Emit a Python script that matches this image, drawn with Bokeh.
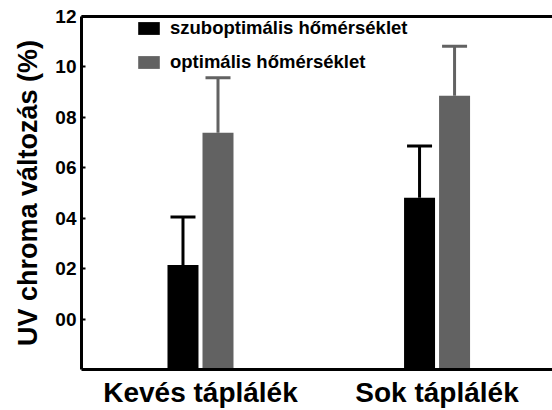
from bokeh.plotting import figure
from bokeh.models import (ColumnDataSource, Whisker, TeeHead, Legend, LegendItem,
                          FixedTicker, LinearAxis, Range1d)
from bokeh.embed import file_html
from bokeh.resources import INLINE

# ---- data ----
groups = ["Kevés táplálék", "Sok táplálék"]
group_x = [1, 2]
series_names = ["szuboptimális hőmérséklet", "optimális hőmérséklet"]
subopt_vals = [2.14, 4.81]
subopt_err = [1.91, 2.05]
opt_vals = [7.39, 8.86]
opt_err = [2.18, 1.96]
y_ticks = [0, 2, 4, 6, 8, 10, 12]
y_tick_labels = ["00", "02", "04", "06", "08", "10", "12"]

FONT = "Liberation Sans"
BLACK = "#000000"
GRAY = "#626262"
OFF = 0.074
BW = 0.131

p = figure(width=552, height=410, output_backend="svg", toolbar_location=None,
           x_range=Range1d(0.497, 2.488), y_range=Range1d(-2, 12),
           min_border_left=81, min_border_right=0, min_border_top=16,
           min_border_bottom=37)
p.outline_line_color = None
p.xgrid.visible = False
p.ygrid.visible = False
p.background_fill_color = "white"
p.border_fill_color = "white"

def make_src(vals, errs, off):
    return ColumnDataSource(dict(
        x=[g + off for g in group_x],
        val=vals,
        top=[v + e for v, e in zip(vals, errs)],
    ))

src_b = make_src(subopt_vals, subopt_err, -OFF)
src_g = make_src(opt_vals, opt_err, OFF)

r_b = p.vbar(x="x", top="val", bottom=-2, width=BW, source=src_b,
             fill_color=BLACK, line_color=None)
r_g = p.vbar(x="x", top="val", bottom=-2, width=BW, source=src_g,
             fill_color=GRAY, line_color=None)

for src, col in [(src_b, BLACK), (src_g, GRAY)]:
    w = Whisker(base="x", lower="val", upper="top", source=src,
                line_color=col, line_width=3,
                upper_head=TeeHead(size=25, line_color=col, line_width=3),
                lower_head=None)
    p.add_layout(w)

# axes
xa = p.xaxis[0]
xa.ticker = FixedTicker(ticks=group_x)
xa.major_label_overrides = {g: lab for g, lab in zip(group_x, groups)}
xa.major_label_text_font = FONT
xa.major_label_text_font_style = "bold"
xa.major_label_text_font_size = "28px"
xa.major_label_text_color = "black"
xa.major_label_standoff = 7
xa.major_tick_in = 0
xa.major_tick_out = 0
xa.minor_tick_line_color = None
xa.axis_line_width = 3
xa.axis_line_color = "black"

ya = p.yaxis[0]
ya.ticker = FixedTicker(ticks=y_ticks)
ya.major_label_overrides = {t: lab for t, lab in zip(y_ticks, y_tick_labels)}
ya.major_label_text_font = FONT
ya.major_label_text_font_style = "bold"
ya.major_label_text_font_size = "19px"
ya.major_label_text_color = "black"
ya.major_label_standoff = 5
ya.major_tick_in = 4
ya.major_tick_out = 0
ya.major_tick_line_width = 2
ya.minor_tick_line_color = None
ya.axis_line_width = 3
ya.axis_line_color = "black"
ya.axis_label = "UV chroma változás (%)"
ya.axis_label_text_font = FONT
ya.axis_label_text_font_style = "bold"
ya.axis_label_text_font_size = "27px"
ya.axis_label_text_color = "black"
ya.axis_label_standoff = 9

top_axis = LinearAxis(ticker=FixedTicker(ticks=[]), major_label_text_font_size="0px",
                      major_tick_in=0, major_tick_out=0, minor_tick_line_color=None,
                      axis_line_width=3, axis_line_color="black", major_label_standoff=0)
p.add_layout(top_axis, "above")

legend = Legend(items=[LegendItem(label=series_names[0], renderers=[r_b]),
                       LegendItem(label=series_names[1], renderers=[r_g])],
                location=(54, 296), margin=0, padding=0, spacing=12,
                glyph_width=27, glyph_height=16, label_standoff=8,
                label_text_font=FONT, label_text_font_style="bold",
                label_text_font_size="18.5px", label_text_color="black",
                border_line_color=None, background_fill_alpha=0)
p.add_layout(legend)

open("out.html", "w").write(file_html(p, INLINE))
